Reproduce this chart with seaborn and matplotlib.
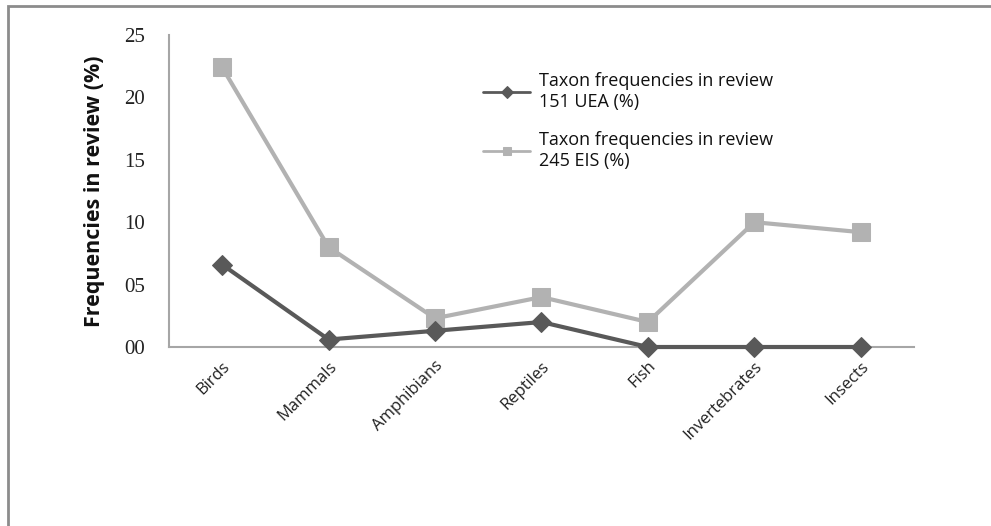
import pandas as pd
import matplotlib.pyplot as plt
import matplotlib.patches as mpatches
import seaborn as sns

taxa = ['Birds', 'Mammals', 'Amphibians', 'Reptiles', 'Fish', 'Invertebrates', 'Insects']
uea_pct = [6.6, 0.6, 1.3, 2.0, 0.0, 0.0, 0.0]
eis_pct = [22.4, 8.0, 2.3, 4.0, 2.0, 10.0, 9.2]
uea_label = 'Taxon frequencies in review\n151 UEA (%)'
eis_label = 'Taxon frequencies in review\n245 EIS (%)'
y_ticks = [0, 5, 10, 15, 20, 25]
y_ticklabels = ['00', '05', '10', '15', '20', '25']

sns.set_theme(style='white')
plt.rcParams['font.family'] = ['Open Sans', 'DejaVu Sans']

dark = '#595959'
light = '#b2b2b2'
axis_col = '#a6a6a6'

df = pd.DataFrame({'taxon': taxa, 'uea': uea_pct, 'eis': eis_pct})

fig = plt.figure(figsize=(9.91, 5.26), dpi=100)
ax = fig.add_axes([0.1705, 0.3403, 0.7518, 0.5932])

# outer frame of the chart (cropped on right and bottom)
fig.patches.append(mpatches.Rectangle((8 / 991, -0.1), 1.2, 1 - 6 / 526 + 0.1,
                                      transform=fig.transFigure, fill=False,
                                      edgecolor='#8c8c8c', linewidth=2))

sns.lineplot(data=df, x='taxon', y='uea', ax=ax, color=dark, linewidth=3,
             marker='D', markersize=10, markeredgecolor=dark, label=uea_label,
             sort=False, clip_on=False, zorder=3)
sns.lineplot(data=df, x='taxon', y='eis', ax=ax, color=light, linewidth=3,
             marker='s', markersize=13, markeredgecolor=light, label=eis_label,
             sort=False, clip_on=False, zorder=2)

ax.set_xlim(-0.5, len(taxa) - 0.5)
ax.set_ylim(0, 25)
ax.set_yticks(y_ticks)
ax.set_yticklabels(y_ticklabels, family='Liberation Serif', fontsize=15, color='#222222')
ax.tick_params(axis='y', length=0, pad=17)
ax.tick_params(axis='x', length=0, pad=8)
plt.setp(ax.get_xticklabels(), rotation=45, ha='right', rotation_mode='anchor',
         fontsize=12, color='#222222')

ax.set_xlabel('')
ax.set_ylabel('Frequencies in review (%)', fontsize=15.5, fontweight='bold',
              color='#111111', labelpad=14)

for side in ['top', 'right']:
    ax.spines[side].set_visible(False)
for side in ['left', 'bottom']:
    ax.spines[side].set_color(axis_col)
    ax.spines[side].set_linewidth(1.5)

leg = ax.legend(loc='upper left', bbox_to_anchor=(0.40, 0.935), frameon=False,
                fontsize=13, handlelength=2.6, handletextpad=0.5, labelspacing=1.1)
for t in leg.get_texts():
    t.set_color('#111111')
    t.set_linespacing(1.25)
for h in leg.legend_handles:
    h.set_linewidth(2)
    h.set_markersize(6)

fig.savefig('out.png', dpi=100)
